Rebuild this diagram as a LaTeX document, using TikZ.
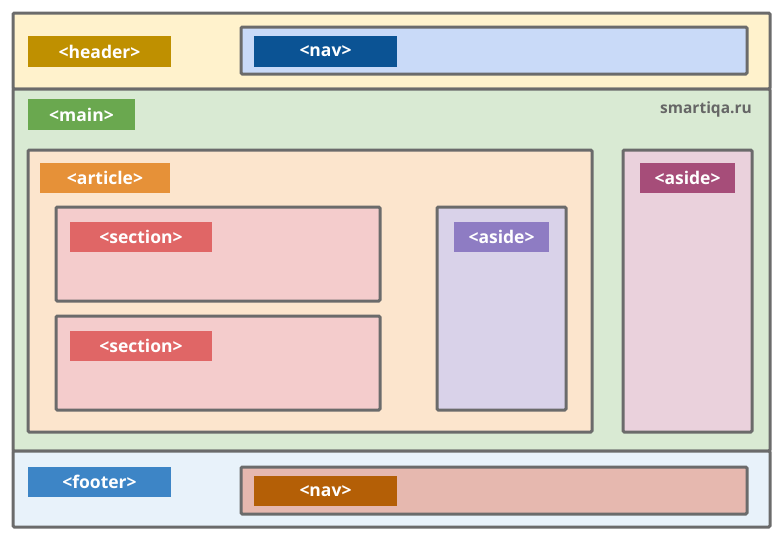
\documentclass[tikz,border=0pt]{standalone}
\usepackage{fontspec}
\setmainfont{Open Sans}[BoldFont={* Bold}]
\definecolor{brd}{HTML}{6B6B6B}
\definecolor{hdrfill}{HTML}{FFF2CC}
\definecolor{hdrlab}{HTML}{BF9000}
\definecolor{navfill}{HTML}{C9DAF8}
\definecolor{navlab}{HTML}{0B5394}
\definecolor{mainfill}{HTML}{D9EAD3}
\definecolor{mainlab}{HTML}{6AA84F}
\definecolor{artfill}{HTML}{FCE5CD}
\definecolor{artlab}{HTML}{E69138}
\definecolor{secfill}{HTML}{F4CCCC}
\definecolor{seclab}{HTML}{E06666}
\definecolor{asfill}{HTML}{D9D2E9}
\definecolor{aslab}{HTML}{8E7CC3}
\definecolor{as2fill}{HTML}{EAD1DC}
\definecolor{as2lab}{HTML}{A64D79}
\definecolor{ftfill}{HTML}{E8F2FA}
\definecolor{ftlab}{HTML}{3D85C6}
\definecolor{fnavfill}{HTML}{E6B8AF}
\definecolor{fnavlab}{HTML}{B45F06}
\definecolor{wm}{HTML}{666666}
\tikzset{
  region/.style={draw=brd, line width=3pt, rounded corners=1.2pt},
  tag/.style={font=\fontsize{17.5}{20}\selectfont\bfseries, text=white, inner sep=0pt, anchor=center},
}
\begin{document}
\begin{tikzpicture}[x=1pt,y=-1pt]
\useasboundingbox (0,0) rectangle (783,538);
% header / main / footer
\draw[region, fill=hdrfill] (13,13) rectangle (770,89);
\draw[region, fill=mainfill] (13,89) rectangle (770,451);
\draw[region, fill=ftfill] (13,451) rectangle (770,527);
% header
\fill[hdrlab] (28,36) rectangle (171,67);
\node[tag] (header) at (99.5,51.5) {<header>};
\draw[region, fill=navfill] (241,27) rectangle (747,74);
\fill[navlab] (254,36) rectangle (397,67);
\node[tag] (nav1) at (325.5,51.5) {<nav>};
% main
\fill[mainlab] (28,99) rectangle (135,130);
\node[tag] (main) at (81.5,114.5) {<main>};
\node[font=\fontsize{15.5}{18}\selectfont\bfseries, text=wm, anchor=east, inner sep=0pt] (wmark) at (752,109) {smartiqa.ru};
% article
\draw[region, fill=artfill] (28,150) rectangle (592,432);
\fill[artlab] (40,163) rectangle (170,193);
\node[tag] (article) at (105,178) {<article>};
% sections
\draw[region, fill=secfill] (56,207) rectangle (380,301);
\fill[seclab] (70,222) rectangle (212,252);
\node[tag] (sec1) at (141,237) {<section>};
\draw[region, fill=secfill] (56,316) rectangle (380,410);
\fill[seclab] (70,331) rectangle (212,361);
\node[tag] (sec2) at (141,346) {<section>};
% inner aside
\draw[region, fill=asfill] (437,207) rectangle (566,410);
\fill[aslab] (454,222) rectangle (549,252);
\node[tag] (aside1) at (501.5,237) {<aside>};
% outer aside
\draw[region, fill=as2fill] (623,150) rectangle (752,432);
\fill[as2lab] (640,163) rectangle (735,193);
\node[tag] (aside2) at (687.5,178) {<aside>};
% footer
\fill[ftlab] (28,467) rectangle (171,497);
\node[tag] (footer) at (99.5,482) {<footer>};
\draw[region, fill=fnavfill] (241,467) rectangle (747,514);
\fill[fnavlab] (254,476) rectangle (397,506);
\node[tag] (nav2) at (325.5,491) {<nav>};
\end{tikzpicture}
\end{document}
